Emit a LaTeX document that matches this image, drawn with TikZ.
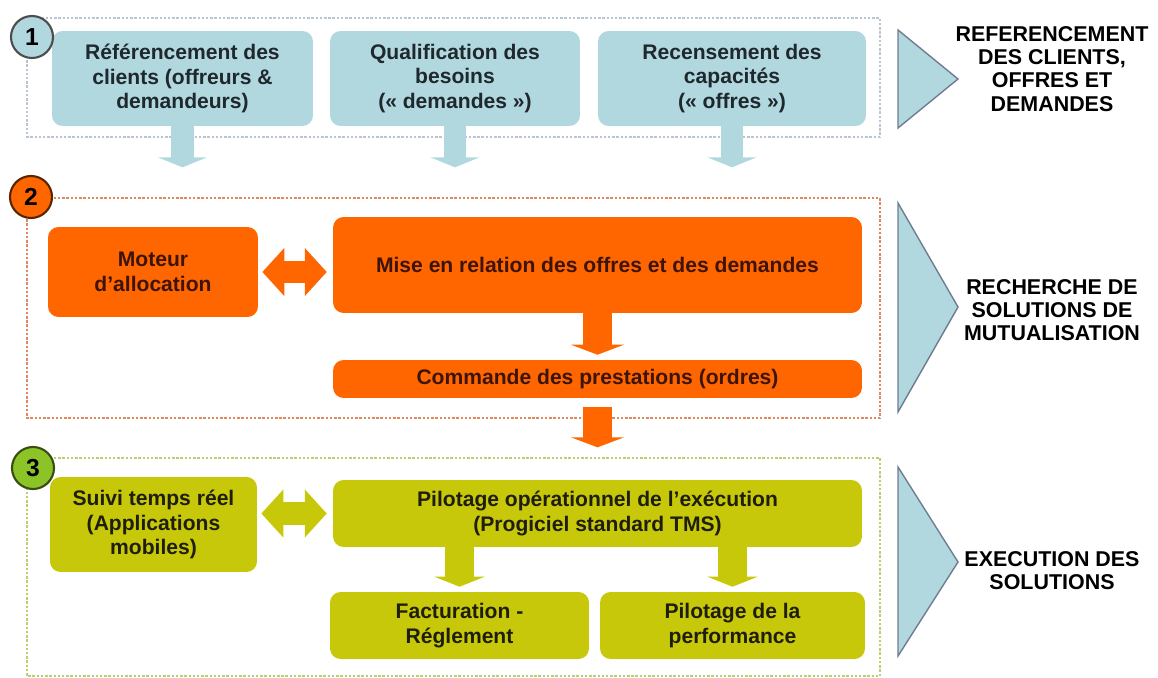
\documentclass[tikz,border=0pt]{standalone}
\usepackage{fontspec}
\setmainfont{Liberation Sans}
\usepackage{tikz}
\usetikzlibrary{arrows.meta,calc}
\usepackage{xcolor}
\definecolor{bluec}{RGB}{178,216,223}
\definecolor{bluetxt}{RGB}{30,40,45}
\definecolor{orangec}{RGB}{255,102,0}
\definecolor{orangetxt}{RGB}{60,20,10}
\definecolor{olivec}{RGB}{200,200,10}
\definecolor{olivetxt}{RGB}{30,30,10}
\definecolor{greenc}{RGB}{140,196,40}
\definecolor{frameblue}{RGB}{185,198,210}
\definecolor{frameorange}{RGB}{225,135,95}
\definecolor{frameolive}{RGB}{190,205,110}
\definecolor{triedge}{RGB}{110,125,145}

\begin{document}
\begin{tikzpicture}[
  x=0.02cm, y=-0.02cm,
  blk/.style={
    rectangle, rounded corners=6pt, align=center, inner sep=2pt,
    font=\fontsize{12}{14}\selectfont\bfseries
  },
  bbox/.style={blk, fill=bluec, text=bluetxt},
  obox/.style={blk, fill=orangec, text=orangetxt},
  ybox/.style={blk, fill=olivec, text=olivetxt},
  sect/.style={draw=#1, densely dotted, line width=1.4pt},
  num/.style 2 args={
    circle, draw=#1, fill=#2, line width=1.2pt, minimum size=0.84cm,
    inner sep=0pt, font=\fontsize{14}{14}\selectfont\bfseries
  },
  side/.style={align=center, font=\fontsize{12.2}{13.2}\selectfont\bfseries},
  tri/.style={fill=bluec, draw=triedge, line width=0.8pt, line join=miter},
  barr/.style={line width=13pt, draw=bluec, -{Triangle[length=5.7pt, width=27.8pt]}},
  oarr/.style={line width=16.4pt, draw=orangec, -{Triangle[length=5.7pt, width=30pt]}},
  yarr/.style={line width=16.4pt, draw=olivec, -{Triangle[length=5.7pt, width=28.4pt]}},
  dbl/.style={line width=13pt, draw=#1,
    {Triangle[length=12.5pt, width=26.7pt]}-{Triangle[length=12.5pt, width=26.7pt]}},
]
\useasboundingbox (0,0) rectangle (1158,678);

% ---- dotted frames of the three stages ----
\draw[sect=frameblue] (27,18) rectangle (880,137);
\draw[sect=frameorange] (27,198) rectangle (880,418);
\draw[sect=frameolive] (27,458) rectangle (880,676);

% ---- stage 1: referencing ----
\node[bbox, minimum width=5.22cm, minimum height=1.9cm] (ref) at (182.5,78.5)
  {Référencement des\\ clients (offreurs \&\\ demandeurs)};
\node[bbox, minimum width=5.0cm, minimum height=1.9cm] (qual) at (455,78.5)
  {Qualification des\\ besoins\\ (« demandes »)};
\node[bbox, minimum width=5.36cm, minimum height=1.9cm] (rec) at (732,78.5)
  {Recensement des\\ capacités\\ (« offres »)};

% ---- stage 2: matching ----
\node[obox, minimum width=4.2cm, minimum height=1.8cm] (moteur) at (153,272)
  {Moteur\\ d’allocation};
\node[obox, minimum width=10.58cm, minimum height=1.92cm] (mise) at (597.5,265)
  {Mise en relation des offres et des demandes};
\node[obox, minimum width=10.58cm, minimum height=0.76cm] (cmd) at (597.5,379)
  {Commande des prestations (ordres)};

% ---- stage 3: execution ----
\node[ybox, minimum width=4.14cm, minimum height=1.9cm] (suivi) at (153.5,524.5)
  {Suivi temps réel\\ (Applications\\ mobiles)};
\node[ybox, minimum width=10.58cm, minimum height=1.34cm] (pilot) at (597.5,513.5)
  {Pilotage opérationnel de l’exécution\\ (Progiciel standard TMS)};
\node[ybox, minimum width=5.18cm, minimum height=1.34cm] (fact) at (459.5,625.5)
  {Facturation -\\ Réglement};
\node[ybox, minimum width=5.3cm, minimum height=1.34cm] (perf) at (732.5,625.5)
  {Pilotage de la\\ performance};

% ---- block arrows ----
\draw[barr] (ref.south) -- ++(0,41);
\draw[barr] (qual.south) -- ++(0,41);
\draw[barr] (rec.south) -- ++(0,41);

\draw[dbl=orangec, shorten <=2.3pt, shorten >=3.4pt]
  (moteur.east) -- (moteur.east -| mise.west);
\draw[oarr, shorten >=2.8pt] (mise.south) -- (cmd.north);
\draw[oarr, shorten <=5pt] (cmd.south) -- ++(0,49);

\draw[dbl=olivec, shorten <=2.3pt, shorten >=3.4pt]
  (suivi.east |- pilot.west) -- (pilot.west);
\draw[yarr, shorten >=2.8pt] (fact.north |- pilot.south) -- (fact.north);
\draw[yarr, shorten >=2.8pt] (perf.north |- pilot.south) -- (perf.north);

% ---- stage numbers ----
\node[num={black!70}{bluec}] (n1) at (32,37) {1};
\node[num={black!65!orangec}{orangec}] (n2) at (31,197) {2};
\node[num={black!60!greenc}{greenc}] (n3) at (33,468) {3};

% ---- side triangles and titles ----
\draw[tri] (898,30) -- (958,79) -- (898,128) -- cycle;
\draw[tri] (898,203) -- (958,307) -- (898,412) -- cycle;
\draw[tri] (898,467) -- (958,562) -- (898,656) -- cycle;

\node[side] (t1) at (1052,69) {REFERENCEMENT\\ DES CLIENTS,\\ OFFRES ET\\ DEMANDES};
\node[side] (t2) at (1052,310) {RECHERCHE DE\\ SOLUTIONS DE\\ MUTUALISATION};
\node[side] (t3) at (1052,571) {EXECUTION DES\\ SOLUTIONS};

\end{tikzpicture}
\end{document}
